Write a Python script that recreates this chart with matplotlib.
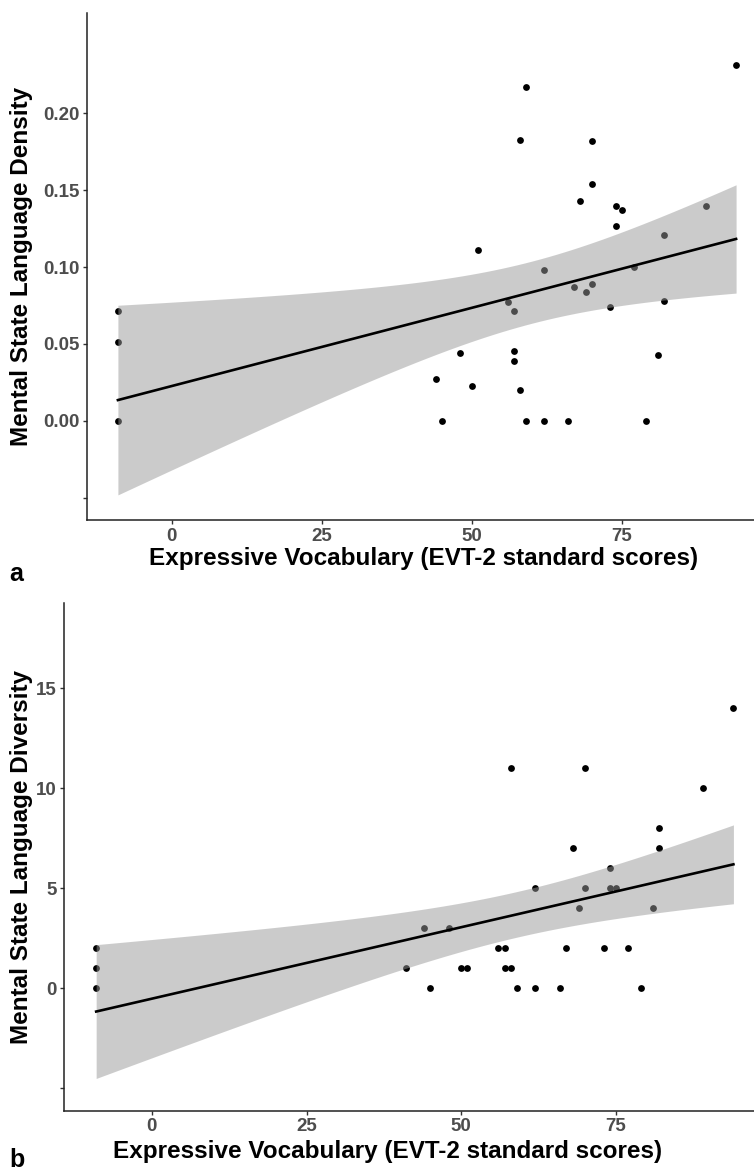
import numpy as np
import matplotlib
matplotlib.use("Agg")
import matplotlib.pyplot as plt

plt.rcParams['font.family'] = ['Liberation Sans', 'DejaVu Sans']

# panel a: mental state language density vs EVT-2
evt_a = [-9, -9, -9, 44, 45, 48, 50, 51, 56, 57, 57, 57, 58, 58, 59, 59,
         62, 62, 66, 67, 68, 69, 70, 70, 70, 73, 74, 74, 75, 77, 79, 81,
         82, 82, 89, 94]
density = [0.0714, 0.0512, 0.0, 0.0274, 0.0, 0.0443, 0.0224, 0.1113, 0.0771,
           0.0714, 0.0456, 0.0387, 0.183, 0.0202, 0.2174, 0.0, 0.0983, 0.0,
           0.0, 0.0872, 0.143, 0.0836, 0.182, 0.154, 0.0888, 0.0738, 0.1398,
           0.1268, 0.1374, 0.1003, 0.0, 0.043, 0.121, 0.0779, 0.140, 0.2314]

# panel b: mental state language diversity vs EVT-2
evt_b = [-9, -9, -9, 41, 44, 45, 48, 50, 51, 56, 57, 57, 58, 58, 59, 62, 62,
         66, 67, 68, 69, 70, 70, 73, 74, 74, 75, 77, 79, 81, 82, 82, 89, 94]
diversity = [2, 1, 0, 1, 3, 0, 3, 1, 1, 2, 2, 1, 11, 1, 0, 5, 0,
             0, 2, 7, 4, 11, 5, 2, 6, 5, 5, 2, 0, 4, 8, 7, 10, 14]

xticks = [0, 25, 50, 75]
yticks_a = [-0.05, 0.0, 0.05, 0.10, 0.15, 0.20]
ylabels_a = ['', '0.00', '0.05', '0.10', '0.15', '0.20']
yticks_b = [-5, 0, 5, 10, 15]
ylabels_b = ['', '0', '5', '10', '15']

W, H = 754, 1172
T_CRIT = 2.03


def lm_band(x, y):
    # straight line fit with 95% confidence band, like geom_smooth(method="lm")
    x = np.asarray(x, float)
    y = np.asarray(y, float)
    n = len(x)
    b1, b0 = np.polyfit(x, y, 1)
    resid = y - (b0 + b1 * x)
    s = np.sqrt(np.sum(resid ** 2) / (n - 2))
    sxx = np.sum((x - x.mean()) ** 2)
    xs = np.linspace(x.min(), x.max(), 80)
    fit = b0 + b1 * xs
    se = s * np.sqrt(1.0 / n + (xs - x.mean()) ** 2 / sxx)
    return xs, fit, fit - T_CRIT * se, fit + T_CRIT * se


def draw_panel(box, x, y, yticks, ylabels, ylim, ylab, xlab_at):
    # box = (left, top, width, height) in figure pixels
    left, top, w, h = box
    ax = fig.add_axes([left / W, 1 - (top + h) / H, w / W, h / H])
    ax.scatter(x, y, s=24, color='black', zorder=2, linewidths=0)
    xs, fit, lo, hi = lm_band(x, y)
    ax.fill_between(xs, lo, hi, color='#999999', alpha=0.5, linewidth=0, zorder=3)
    ax.plot(xs, fit, color='black', lw=1.9, zorder=4)
    ax.set_xlim(-14.15, 99.15)
    ax.set_ylim(*ylim)
    ax.set_xticks(xticks)
    ax.set_yticks(yticks)
    ax.set_yticklabels(ylabels)
    for s in ['top', 'right']:
        ax.spines[s].set_visible(False)
    for s in ['left', 'bottom']:
        ax.spines[s].set_linewidth(1.1)
        ax.spines[s].set_color('#222222')
    ax.tick_params(length=3, width=1.0, color='#333333', labelcolor='#4D4D4D',
                   labelsize=13.5, pad=2.5)
    for lab in ax.get_xticklabels() + ax.get_yticklabels():
        lab.set_fontweight('bold')
    ax.set_xlabel('Expressive Vocabulary (EVT-2 standard scores)', fontsize=17.5,
                  fontweight='bold')
    ax.set_ylabel(ylab, fontsize=17.5, fontweight='bold')
    # place axis titles where the reference has them
    ax.yaxis.set_label_coords((33 - left) / w, 0.5)
    xc, xtop = xlab_at
    ax.xaxis.set_label_coords((xc - left) / w, (top + h - xtop) / h)
    return ax


fig = plt.figure(figsize=(W / 100, H / 100), dpi=100)

draw_panel((87, 13.3, 680, 506.7), evt_a, density,
           yticks_a, ylabels_a, (-0.0646, 0.2652),
           'Mental State Language Density', (424, 547))
draw_panel((64.3, 603, 701, 507.7), evt_b, diversity,
           yticks_b, ylabels_b, (-6.12, 19.26),
           'Mental State Language Diversity', (388, 1140))

fig.text(9 / W, 1 - 574 / H, 'a', fontsize=18, fontweight='bold', va='center')
fig.text(9 / W, 1 - 1160 / H, 'b', fontsize=18, fontweight='bold', va='center')

fig.savefig('out.png', dpi=100)
